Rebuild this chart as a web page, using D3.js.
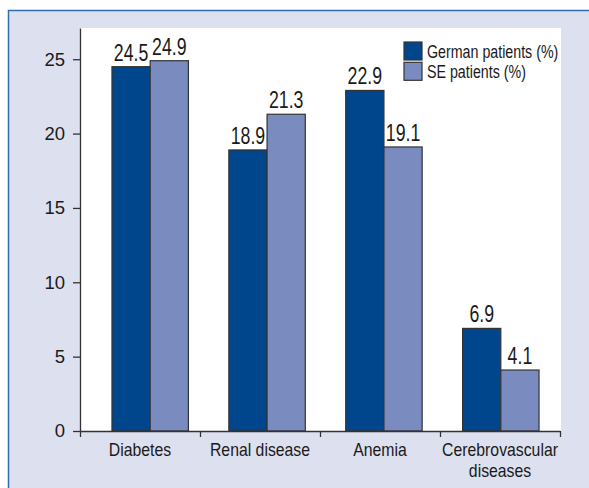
<!DOCTYPE html>
<html>
<head>
<meta charset="utf-8">
<script src="https://cdn.jsdelivr.net/npm/d3@7"></script>
<style>
  html, body { margin: 0; padding: 0; background: #fff; }
  svg { display: block; }
</style>
</head>
<body>
<svg id="chart"></svg>
<script>
// data
var categories = ["Diabetes", "Renal disease", "Anemia", "Cerebrovascular diseases"];
var categoryLines = [["Diabetes"], ["Renal disease"], ["Anemia"], ["Cerebrovascular", "diseases"]];
var seriesNames = ["German patients (%)", "SE patients (%)"];
var germanValues = [24.5, 18.9, 22.9, 6.9];
var seValues = [24.9, 21.3, 19.1, 4.1];
var yTicks = [0, 5, 10, 15, 20, 25];

var width = 589, height = 488;
var colors = ["#00468c", "#7a8bbf"];
var font = '"Liberation Sans", Arial, sans-serif';
var ink = "#1a1a1a";

// the original uses a condensed face; squeeze Liberation Sans horizontally
function squeeze(sel, sx) {
  sel.each(function() {
    var t = d3.select(this);
    var x = +t.attr("x") || 0, yy = +t.attr("y") || 0;
    t.attr("transform", "translate(" + x + "," + yy + ") scale(" + sx + ",1)")
        .attr("x", 0).attr("y", 0);
    t.selectAll("tspan").attr("x", 0);
  });
}

var svg = d3.select("#chart")
    .attr("width", width)
    .attr("height", height);

// lavender frame with blue rule on top and left
svg.append("rect")
    .attr("x", 8).attr("y", 10)
    .attr("width", width - 8).attr("height", height - 10)
    .attr("fill", "#dde0ef");
svg.append("path")
    .attr("d", "M8.5," + height + "V10.5H" + width)
    .attr("fill", "none")
    .attr("stroke", "#2f6db3")
    .attr("stroke-width", 1.5);

var plotLeft = 80, plotRight = 561, plotTop = 28, plotBottom = 431;

var y = d3.scaleLinear([0, 27.1], [plotBottom, plotTop]);
var xCat = d3.scaleBand(categories, [plotLeft, plotRight - 1]);
var xTick = d3.scaleLinear([0, categories.length], [plotLeft, plotRight - 1]);
var x0 = d3.scaleBand(categories, [91.75, 559.25])
    .paddingInner(0.346)
    .paddingOuter(0.173);
var x1 = d3.scaleBand(seriesNames, [0, x0.bandwidth()]);

// white plot area
svg.append("rect")
    .attr("x", plotLeft).attr("y", plotTop)
    .attr("width", plotRight - plotLeft).attr("height", plotBottom - plotTop)
    .attr("fill", "#fff");

var rows = categories.map(function(c, i) {
  return { cat: c, values: [germanValues[i], seValues[i]] };
});

var groups = svg.append("g").selectAll("g")
    .data(rows)
    .join("g")
    .attr("transform", function(d) { return "translate(" + x0(d.cat) + ",0)"; });

groups.selectAll("rect")
    .data(function(d) { return d.values.map(function(v, j) { return { s: seriesNames[j], v: v, j: j }; }); })
    .join("rect")
    .attr("x", function(d) { return x1(d.s); })
    .attr("y", function(d) { return y(d.v); })
    .attr("width", x1.bandwidth())
    .attr("height", function(d) { return y(0) - y(d.v); })
    .attr("fill", function(d) { return colors[d.j]; })
    .attr("stroke", "#333")
    .attr("stroke-width", 1.2);

groups.selectAll("text")
    .data(function(d) { return d.values.map(function(v, j) { return { s: seriesNames[j], v: v }; }); })
    .join("text")
    .attr("x", function(d) { return x1(d.s) + x1.bandwidth() / 2; })
    .attr("y", function(d) { return y(d.v) - 6; })
    .attr("text-anchor", "middle")
    .attr("font-family", font)
    .attr("font-size", 23)
    .attr("fill", ink)
    .text(function(d) { return d3.format(".1f")(d.v); })
    .call(squeeze, 0.77);

// y axis
svg.append("g")
    .attr("transform", "translate(" + plotLeft + ",0)")
    .call(d3.axisLeft(y).tickValues(yTicks).tickSize(7).tickSizeOuter(0).tickPadding(8))
    .call(function(g) { g.selectAll("path, line").attr("stroke", "#333").attr("stroke-width", 1.3); })
    .call(function(g) {
      g.selectAll("text")
          .attr("font-family", font)
          .attr("font-size", 18.5)
          .attr("fill", ink);
    });

// x axis: ticks on category boundaries
svg.append("g")
    .attr("transform", "translate(0," + plotBottom + ")")
    .call(d3.axisBottom(xTick).ticks(categories.length).tickFormat("").tickSize(6).tickSizeOuter(0))
    .call(function(g) { g.selectAll("path, line").attr("stroke", "#333").attr("stroke-width", 1.3); });

var catLabels = svg.append("g").selectAll("text")
    .data(categories)
    .join("text")
    .attr("x", function(d) { return xCat(d) + xCat.bandwidth() / 2; })
    .attr("y", plotBottom + 24.5)
    .attr("text-anchor", "middle")
    .attr("font-family", font)
    .attr("font-size", 18.8)
    .attr("fill", ink);

catLabels.selectAll("tspan")
    .data(function(d, i) { return categoryLines[i]; })
    .join("tspan")
    .attr("dy", function(d, i) { return i === 0 ? 0 : 21.5; })
    .text(function(d) { return d; });

catLabels.call(squeeze, 0.84);

// legend
var legend = svg.append("g")
    .attr("transform", "translate(404,42)")
    .selectAll("g")
    .data(seriesNames)
    .join("g")
    .attr("transform", function(d, i) { return "translate(0," + (i * 20.3) + ")"; });

legend.append("rect")
    .attr("width", 18).attr("height", 18)
    .attr("fill", function(d, i) { return colors[i]; })
    .attr("stroke", "#333")
    .attr("stroke-width", 1.2);

legend.append("text")
    .attr("x", 23)
    .attr("y", 15.5)
    .attr("font-family", font)
    .attr("font-size", 18.5)
    .attr("fill", ink)
    .text(function(d) { return d; })
    .call(squeeze, 0.77);
</script>
</body>
</html>
